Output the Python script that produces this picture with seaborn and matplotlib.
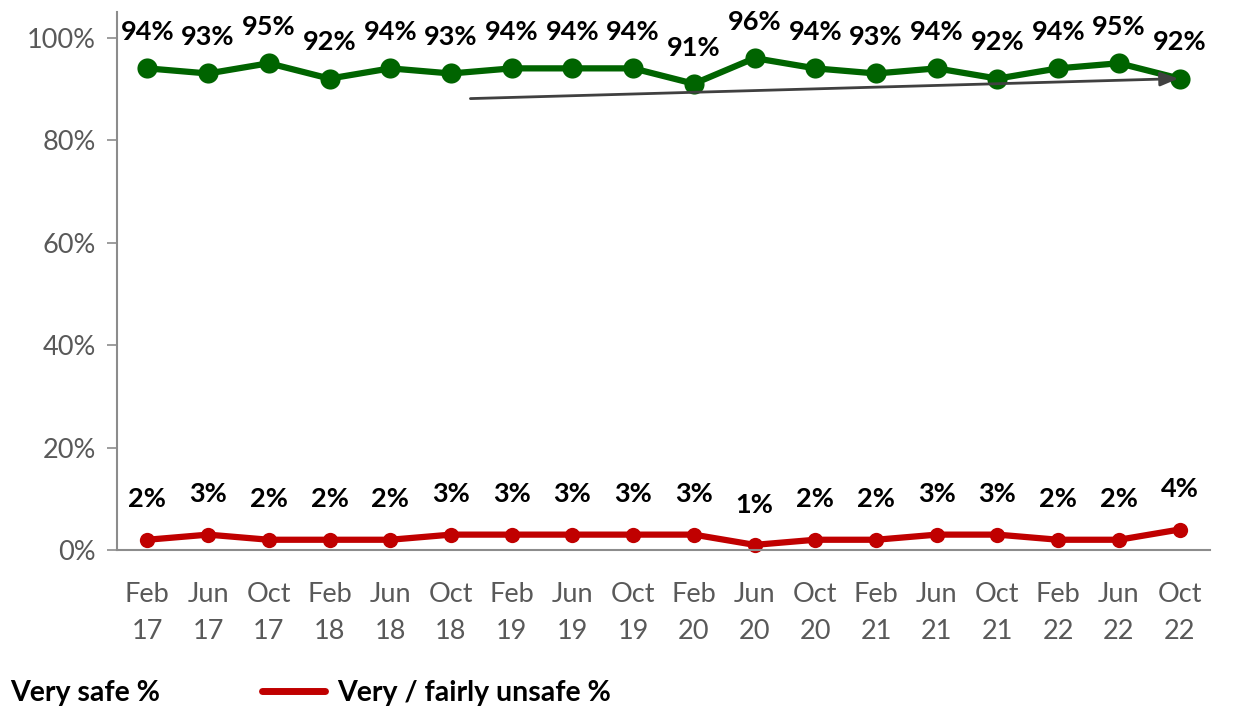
"""Feeling of safety over time: very safe vs very / fairly unsafe."""

import matplotlib.pyplot as plt
import pandas as pd
import seaborn as sns

WAVES = [
    "Feb\n17", "Jun\n17", "Oct\n17", "Feb\n18", "Jun\n18", "Oct\n18",
    "Feb\n19", "Jun\n19", "Oct\n19", "Feb\n20", "Jun\n20", "Oct\n20",
    "Feb\n21", "Jun\n21", "Oct\n21", "Feb\n22", "Jun\n22", "Oct\n22",
]
VERY_SAFE = [94, 93, 95, 92, 94, 93, 94, 94, 94, 91, 96, 94, 93, 94, 92, 94, 95, 92]
UNSAFE = [2, 3, 2, 2, 2, 3, 3, 3, 3, 3, 1, 2, 2, 3, 3, 2, 2, 4]
Y_TICKS = [0, 20, 40, 60, 80, 100]

GREEN = "#006400"
RED = "#C00000"
GREY = "#595959"

sns.set_theme(style="white")
plt.rcParams["font.family"] = ["Lato", "DejaVu Sans"]

df = pd.DataFrame({"wave": WAVES, "x": range(len(WAVES)),
                   "Very safe %": VERY_SAFE,
                   "Very / fairly unsafe %": UNSAFE})

fig = plt.figure(figsize=(12.35, 7.1), dpi=100)
ax = fig.add_axes([117 / 1235, 1 - 550 / 710, (1210 - 117) / 1235, (550 - 12) / 710])

sns.lineplot(data=df, x="x", y="Very safe %", ax=ax, color=GREEN, lw=4.5,
             marker="o", markersize=14.5, markeredgewidth=0, clip_on=False)
sns.lineplot(data=df, x="x", y="Very / fairly unsafe %", ax=ax, color=RED, lw=4.5,
             marker="o", markersize=11, markeredgewidth=0, clip_on=False)

for i, (s, u) in enumerate(zip(VERY_SAFE, UNSAFE)):
    ax.annotate(f"{s}%", (i, s), xytext=(0, 26), textcoords="offset points",
                ha="center", va="center", fontsize=19.5, fontweight="bold", color="black")
    ax.annotate(f"{u}%", (i, u), xytext=(0, 29), textcoords="offset points",
                ha="center", va="center", fontsize=19.5, fontweight="bold", color="black")

# trend arrow
ax.annotate("", xy=(16.98, 92.0), xytext=(5.32, 88.1),
            arrowprops=dict(arrowstyle="-|>,head_length=0.9,head_width=0.35",
                            color="#404040", lw=2, shrinkA=0, shrinkB=0))

ax.set_xlim(-0.5, len(WAVES) - 0.5)
ax.set_ylim(0, 105)
ax.set_xticks(range(len(WAVES)))
ax.set_xticklabels(WAVES)
ax.set_yticks(Y_TICKS)
ax.set_yticklabels([f"{t}%" for t in Y_TICKS])
ax.set_xlabel("")
ax.set_ylabel("")
ax.tick_params(axis="x", length=0, pad=23, labelsize=19.5, labelcolor=GREY)
ax.tick_params(axis="y", length=7, width=1.2, color="#8C8C8C", pad=8,
               labelsize=19.5, labelcolor=GREY, left=True)
for side in ("top", "right"):
    ax.spines[side].set_visible(False)
for side in ("left", "bottom"):
    ax.spines[side].set_color("#8C8C8C")
    ax.spines[side].set_linewidth(1.5)
for lbl in ax.get_xticklabels():
    lbl.set_linespacing(1.6)

# legend along the bottom (the green key is cut off in the original)
fig.text(10 / 1235, 1 - 693 / 710, "Very safe %", fontsize=20.5, fontweight="bold",
         va="center", ha="left", color="black")
fig.add_artist(plt.Line2D([262 / 1235, 325 / 1235], [1 - 691 / 710] * 2,
                          color=RED, lw=5, transform=fig.transFigure))
fig.text(337 / 1235, 1 - 693 / 710, "Very / fairly unsafe %", fontsize=20.5,
         fontweight="bold", va="center", ha="left", color="black")

fig.savefig("out.png", dpi=100)
